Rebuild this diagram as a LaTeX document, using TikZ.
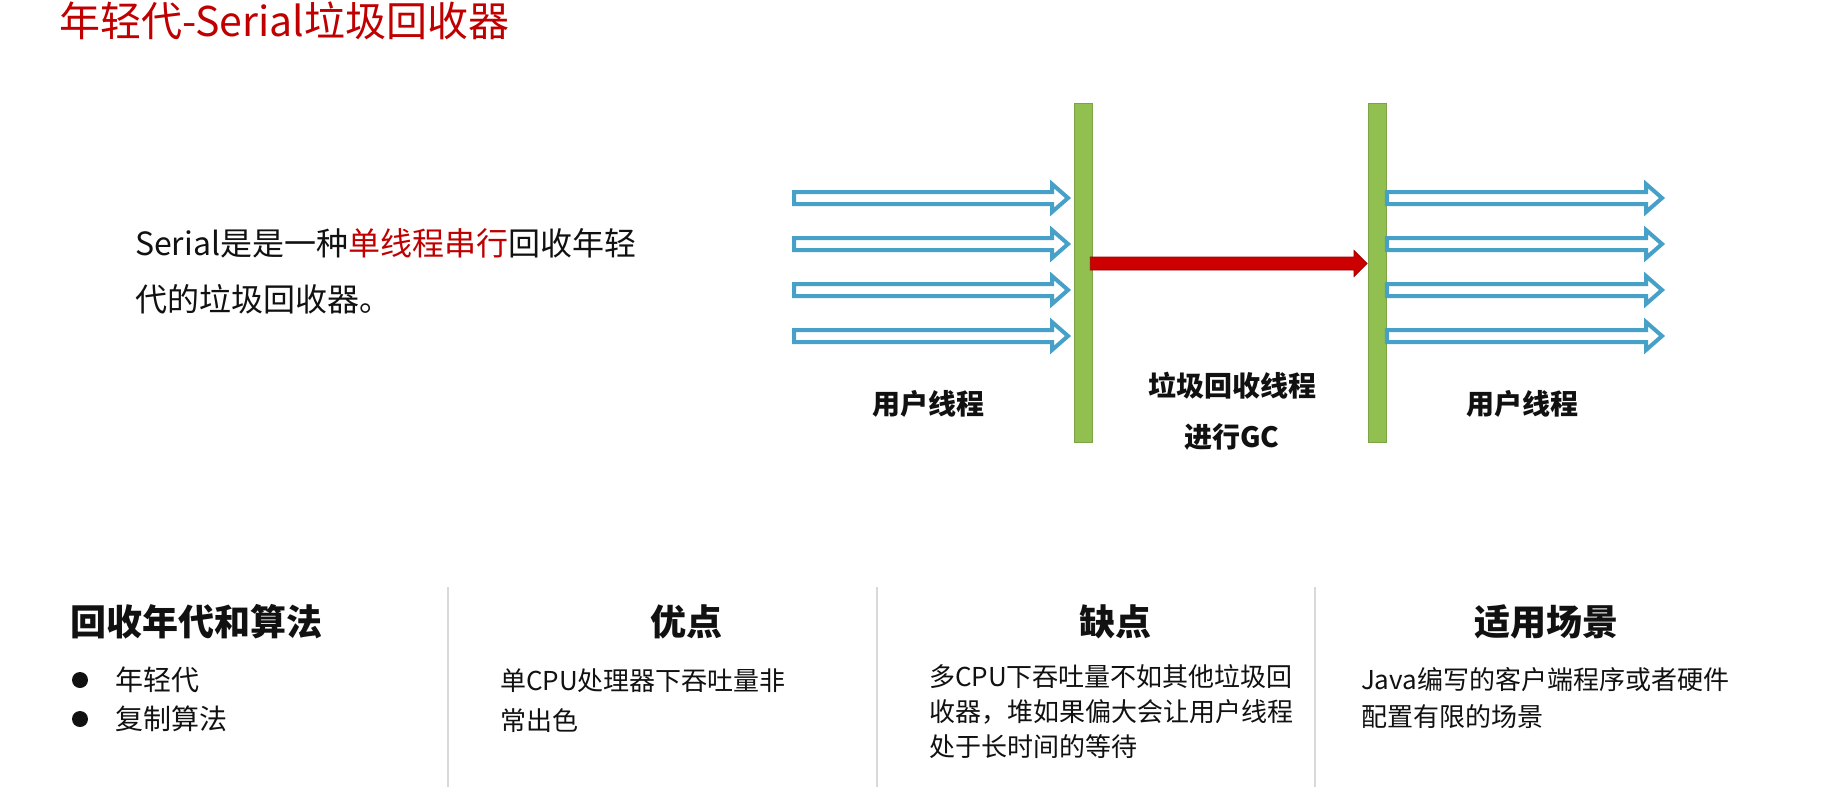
\documentclass[tikz,border=0pt]{standalone}
\usepackage{fontspec}
\setmainfont{Noto Sans CJK SC}
\usetikzlibrary{calc}
\definecolor{titlered}{HTML}{C00000}
\definecolor{barg}{HTML}{92C050}
\definecolor{thblue}{HTML}{46A0C8}
\definecolor{gcred}{HTML}{CC0000}
\definecolor{gcredline}{HTML}{9A0000}
\definecolor{sepgray}{HTML}{D9D9D9}
\definecolor{ink}{HTML}{111111}
\newcommand{\hollowarrow}[2]{%
  \draw[threadarrow] let \p1=(#1), \p2=(#2) in
    (\x1,\y1+3pt) -- (\x2-8pt,\y1+3pt) -- (\x2-8pt,\y1+7pt) -- (\x2,\y1)
    -- (\x2-8pt,\y1-7pt) -- (\x2-8pt,\y1-3pt) -- (\x1,\y1-3pt) -- cycle;}
\begin{document}
\begin{tikzpicture}[x=0.5pt,y=-0.5pt,
  txt/.style={inner sep=0pt, outer sep=0pt, text=ink},
  titletxt/.style={txt, text=titlered, font=\fontsize{20.5}{24}\selectfont},
  introtxt/.style={txt, font=\fontsize{16}{19}\selectfont},
  labeltxt/.style={txt, font=\bfseries\fontsize{14}{17}\selectfont},
  headtxt/.style={txt, font=\bfseries\fontsize{18}{21}\selectfont},
  bodytxt/.style={txt, font=\fontsize{13}{16}\selectfont},
  itemtxt/.style={txt, font=\fontsize{14}{17}\selectfont},
  bullet/.style={circle, fill=ink, minimum size=8pt, inner sep=0pt},
  gcbar/.style={rectangle, fill=barg, draw=barg!85!black, line width=0.3pt, inner sep=0pt, minimum width=9pt, minimum height=169.5pt},
  threadarrow/.style={draw=thblue, fill=white, line width=2pt, line join=miter},
  gcarrow/.style={fill=gcred, draw=gcredline, line width=0.4pt},
  sepline/.style={draw=sepgray, line width=0.6pt}
]
\useasboundingbox[fill=white] (0,0) rectangle (1841,804);

% title
\node[titletxt, anchor=base west] (title) at (59,36) {年轻代-Serial垃圾回收器};

% intro
\node[introtxt, anchor=base west] (intro1) at (135,255) {Serial是是一种\textcolor{titlered}{单线程串行}回收年轻};
\node[introtxt, anchor=base west] (intro2) at (135,311) {代的垃圾回收器。};

% bars
\node[gcbar] (bar1) at (1083,272.5) {};
\node[gcbar] (bar2) at (1377.5,272.5) {};

% thread arrows
\foreach \i/\yy in {1/198,2/244,3/290,4/336}{
  \coordinate (ls\i) at (794,\yy);
  \coordinate (le\i) at (1068,\yy);
  \coordinate (rs\i) at (bar2.east |- 0,\yy);
  \coordinate (re\i) at (1662,\yy);
  \hollowarrow{ls\i}{le\i}
  \hollowarrow{rs\i}{re\i}
}

% red GC arrow
\coordinate (gs) at (bar1.east |- 0,263.5);
\coordinate (ge) at (1367,263.5);
\draw[gcarrow] let \p1=(gs), \p2=(ge) in
  (\x1-1pt,\y1+3.25pt) -- (\x2-6.5pt,\y1+3.25pt) -- (\x2-6.5pt,\y1+6.5pt) -- (\x2,\y1)
  -- (\x2-6.5pt,\y1-6.5pt) -- (\x2-6.5pt,\y1-3.25pt) -- (\x1-1pt,\y1-3.25pt) -- cycle;

% labels
\node[labeltxt] (lab1) at (928,404) {用户线程};
\node[labeltxt] (lab2) at (1232,386) {垃圾回收线程};
\node[labeltxt] (lab3) at (1232,437) {进行GC};
\node[labeltxt] (lab4) at (1522,404) {用户线程};

% separators
\coordinate (s1a) at (448,587); \coordinate (s1b) at (448,787);
\coordinate (s2a) at (877,587); \coordinate (s2b) at (877,787);
\coordinate (s3a) at (1315,587); \coordinate (s3b) at (1315,787);
\draw[sepline] (s1a) -- (s1b);
\draw[sepline] (s2a) -- (s2b);
\draw[sepline] (s3a) -- (s3b);

% headings
\node[headtxt, anchor=west] (h1) at (70,622) {回收年代和算法};
\node[headtxt] (h2) at (686,622) {优点};
\node[headtxt] (h3) at (1115,622) {缺点};
\node[headtxt] (h4) at (1546,622) {适用场景};

% column 1
\node[bullet] (b1) at (80,680) {};
\node[bullet] (b2) at (80,719) {};
\node[itemtxt, anchor=base west] (i1) at (115,690.5) {年轻代};
\node[itemtxt, anchor=base west] (i2) at (115,729.5) {复制算法};

% column 2
\node[bodytxt, anchor=base west] (p1) at (500,690) {单CPU处理器下吞吐量非};
\node[bodytxt, anchor=base west] (p2) at (500,730) {常出色};

% column 3
\node[bodytxt, anchor=base west] (c1) at (929,686) {多CPU下吞吐量不如其他垃圾回};
\node[bodytxt, anchor=base west] (c2) at (929,721) {收器，堆如果偏大会让用户线程};
\node[bodytxt, anchor=base west] (c3) at (929,756) {处于长时间的等待};

% column 4
\node[bodytxt, anchor=base west] (u1) at (1361,689) {Java编写的客户端程序或者硬件};
\node[bodytxt, anchor=base west] (u2) at (1361,726) {配置有限的场景};
\end{tikzpicture}
\end{document}
